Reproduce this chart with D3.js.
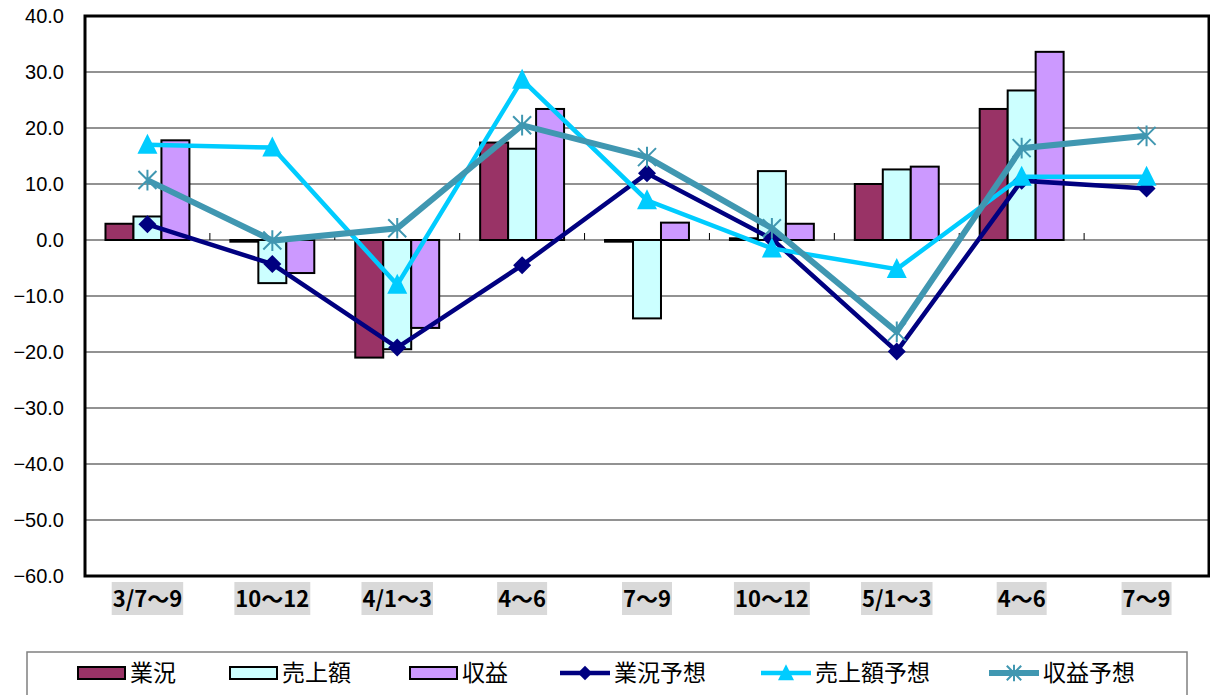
<!DOCTYPE html>
<html>
<head>
<meta charset="utf-8">
<script src="https://cdn.jsdelivr.net/npm/d3@7"></script>
<style>
  html, body { margin: 0; padding: 0; background: #fff; }
  svg { display: block; }
</style>
</head>
<body>
<svg id="chart" width="1210" height="695"></svg>
<script>
// Quarter labels (x axis)
const categories = ["3/7～9", "10～12", "4/1～3", "4～6", "7～9", "10～12", "5/1～3", "4～6", "7～9"];

// Bar series
const gyokyo   = [2.9, -0.3, -21.0, 17.4, -0.3, 0.3, 10.0, 23.4, null];
const uriage   = [4.2, -7.7, -19.5, 16.3, -14.0, 12.3, 12.6, 26.7, null];
const shueki   = [17.8, -5.9, -15.7, 23.4, 3.1, 2.9, 13.1, 33.6, null];

// Forecast line series
const gyokyoYoso = [2.8, -4.3, -19.2, -4.5, 11.9, 0.2, -19.9, 10.6, 9.2];
const uriageYoso = [17.0, 16.5, -8.0, 28.6, 7.1, -1.5, -5.2, 11.3, 11.3];
const shuekiYoso = [10.7, -0.1, 2.1, 20.5, 14.8, 2.1, -16.4, 16.4, 18.6];

// Y axis tick values
const yTicks = [40, 30, 20, 10, 0, -10, -20, -30, -40, -50, -60];

const barSeries = [
  { name: "業況",   values: gyokyo, fill: "#993366" },
  { name: "売上額", values: uriage, fill: "#CCFFFF" },
  { name: "収益",   values: shueki, fill: "#CC99FF" }
];
const lineSeries = [
  { name: "業況予想",   values: gyokyoYoso, color: "#000080", width: 4.5, marker: "diamond" },
  { name: "売上額予想", values: uriageYoso, color: "#00CCFF", width: 4.5, marker: "triangle" },
  { name: "収益予想",   values: shuekiYoso, color: "#4097B1", width: 6, marker: "asterisk" }
];

const svg = d3.select("#chart");
const plot = { left: 85, top: 16, right: 1209, bottom: 576 };

const x0 = d3.scaleBand()
  .domain(categories.map((d, i) => i))
  .range([plot.left, plot.right])
  .padding(0);
const bw = x0.bandwidth();
const groupW = bw * 0.672;
const x1 = d3.scaleBand()
  .domain(barSeries.map(s => s.name))
  .range([(bw - groupW) / 2, (bw + groupW) / 2])
  .padding(0);

const y = d3.scaleLinear().domain([-60, 40]).range([plot.bottom, plot.top]);

// Horizontal gridlines
svg.append("g")
  .selectAll("line")
  .data(yTicks)
  .join("line")
  .attr("x1", plot.left).attr("x2", plot.right)
  .attr("y1", d => y(d)).attr("y2", d => y(d))
  .attr("stroke", "#6e6e6e")
  .attr("stroke-width", 1.5);

// Y axis labels
const fmt = d3.format(".1f");
svg.append("g")
  .selectAll("text")
  .data(yTicks)
  .join("text")
  .attr("x", 64)
  .attr("y", d => y(d))
  .attr("dy", "0.36em")
  .attr("text-anchor", "end")
  .attr("font-family", "Liberation Sans, Arial, sans-serif")
  .attr("font-size", 20)
  .attr("fill", "#000")
  .text(d => fmt(d));

// Bars
const barG = svg.append("g");
barSeries.forEach(s => {
  barG.append("g")
    .selectAll("rect")
    .data(s.values.map((v, i) => ({ v, i })).filter(d => d.v !== null))
    .join("rect")
    .attr("x", d => x0(d.i) + x1(s.name))
    .attr("width", x1.bandwidth())
    .attr("y", d => Math.min(y(d.v), y(0)))
    .attr("height", d => Math.max(Math.abs(y(d.v) - y(0)), 0.5))
    .attr("fill", s.fill)
    .attr("stroke", "#000")
    .attr("stroke-width", 2);
});

// Category tick marks on the zero line
svg.append("g")
  .selectAll("line")
  .data(d3.range(1, categories.length))
  .join("line")
  .attr("x1", i => x0(i)).attr("x2", i => x0(i))
  .attr("y1", y(0) - 7).attr("y2", y(0))
  .attr("stroke", "#000")
  .attr("stroke-width", 1);

// Marker shapes
function drawMarker(g, type, cx, cy, color, scale) {
  const k = scale || 1;
  if (type === "diamond") {
    const r = 9 * k;
    g.append("path")
      .attr("d", `M${cx},${cy - r}L${cx + r},${cy}L${cx},${cy + r}L${cx - r},${cy}Z`)
      .attr("fill", color);
  } else if (type === "triangle") {
    const h = 18 * k, w = 10 * k;
    g.append("path")
      .attr("d", `M${cx},${cy - h / 2 - 2 * k}L${cx + w},${cy + h / 2}L${cx - w},${cy + h / 2}Z`)
      .attr("fill", color);
  } else if (type === "asterisk") {
    const r = 9 * k;
    const p = d3.path();
    p.moveTo(cx - r, cy - r); p.lineTo(cx + r, cy + r);
    p.moveTo(cx - r, cy + r); p.lineTo(cx + r, cy - r);
    p.moveTo(cx, cy - r * 1.15); p.lineTo(cx, cy + r * 1.15);
    g.append("path")
      .attr("d", p.toString())
      .attr("stroke", color)
      .attr("stroke-width", 2)
      .attr("fill", "none");
  }
}

// Forecast lines
const lineGen = d3.line()
  .defined(d => d.v !== null)
  .x(d => x0(d.i) + bw / 2)
  .y(d => y(d.v));

const linesG = svg.append("g");
lineSeries.forEach(s => {
  const pts = s.values.map((v, i) => ({ v, i }));
  const g = linesG.append("g");
  g.append("path")
    .datum(pts)
    .attr("d", lineGen)
    .attr("fill", "none")
    .attr("stroke", s.color)
    .attr("stroke-width", s.width)
    .attr("stroke-linejoin", "miter");
  pts.filter(d => d.v !== null).forEach(d => {
    drawMarker(g, s.marker, x0(d.i) + bw / 2, y(d.v), s.color, 1);
  });
});

// Plot frame
svg.append("rect")
  .attr("x", plot.left).attr("y", plot.top)
  .attr("width", plot.right - plot.left)
  .attr("height", plot.bottom - plot.top)
  .attr("fill", "none")
  .attr("stroke", "#000")
  .attr("stroke-width", 3);

// X axis labels with shaded background
const xl = svg.append("g");
categories.forEach((c, i) => {
  const cx = x0(i) + bw / 2;
  const t = xl.append("text")
    .attr("x", cx)
    .attr("y", 599)
    .attr("dy", "0.36em")
    .attr("text-anchor", "middle")
    .attr("font-family", "Noto Sans CJK JP, sans-serif")
    .attr("font-weight", "bold")
    .attr("font-size", 22)
    .attr("fill", "#000")
    .text(c);
  const bb = t.node().getBBox();
  xl.insert("rect", "text")
    .attr("x", bb.x - 1)
    .attr("y", 582)
    .attr("width", bb.width + 2)
    .attr("height", 33)
    .attr("fill", "#d9d9d9");
});

// Legend
const leg = svg.append("g");
leg.append("rect")
  .attr("x", 27).attr("y", 652)
  .attr("width", 1160).attr("height", 60)
  .attr("fill", "#fff")
  .attr("stroke", "#808080")
  .attr("stroke-width", 1.5);

const legendItems = [
  { s: barSeries[0], kind: "bar", x: 78 },
  { s: barSeries[1], kind: "bar", x: 230 },
  { s: barSeries[2], kind: "bar", x: 410 },
  { s: lineSeries[0], kind: "line", x: 560 },
  { s: lineSeries[1], kind: "line", x: 761 },
  { s: lineSeries[2], kind: "line", x: 989 }
];
const ly = 673;
legendItems.forEach(it => {
  if (it.kind === "bar") {
    leg.append("rect")
      .attr("x", it.x).attr("y", ly - 6)
      .attr("width", 47).attr("height", 12)
      .attr("fill", it.s.fill)
      .attr("stroke", "#000")
      .attr("stroke-width", 2);
  } else {
    leg.append("line")
      .attr("x1", it.x).attr("x2", it.x + 50)
      .attr("y1", ly).attr("y2", ly)
      .attr("stroke", it.s.color)
      .attr("stroke-width", it.s.width);
    drawMarker(leg, it.s.marker, it.x + 25, ly, it.s.color, 0.8);
  }
  leg.append("text")
    .attr("x", it.x + (it.kind === "bar" ? 52 : 54))
    .attr("y", ly)
    .attr("dy", "0.36em")
    .attr("font-family", "Noto Sans CJK JP, sans-serif")
    .attr("font-size", 23)
    .attr("fill", "#000")
    .text(it.s.name);
});
</script>
</body>
</html>
